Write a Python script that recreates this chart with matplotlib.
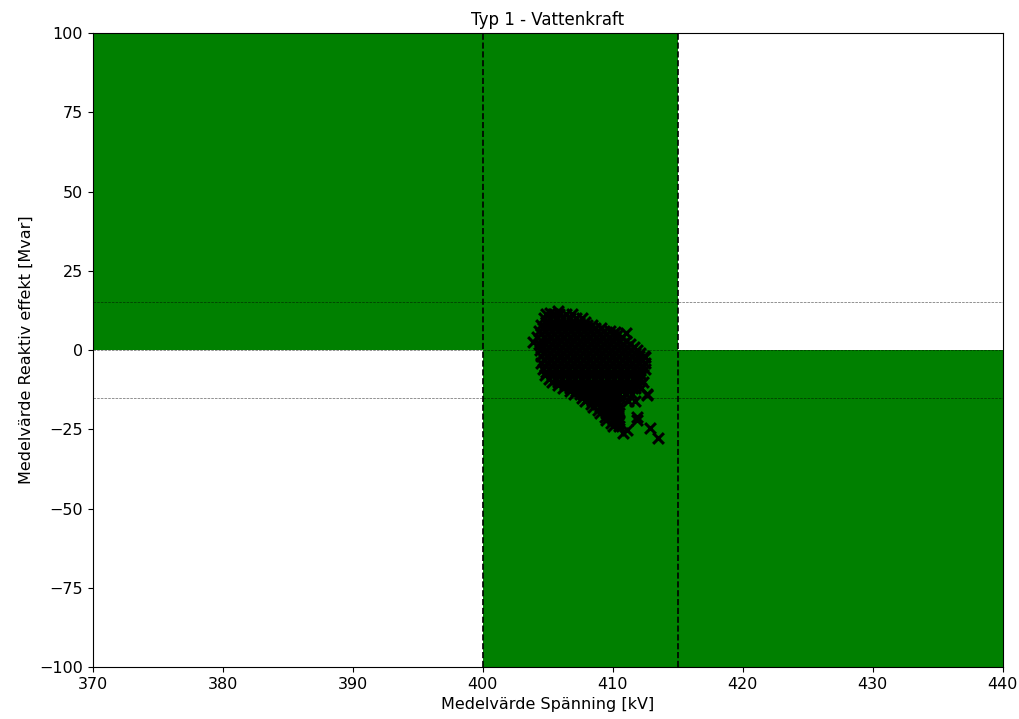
import numpy as np
import matplotlib
matplotlib.use("Agg")
from matplotlib import pyplot as plt

# Gränser för zonerna (spänning kV, reaktiv effekt Mvar)
zone_x0 = [370, 400, 415]
zone_x1 = [400, 415, 440]
zone_y0 = [0, -100, -100]
zone_y1 = [100, 100, 0]

v_limits = [400, 415]
q_limits = [15, 0, -15]

# Mätpunkter, avlästa rad för rad (Q-värde: lista med spänningar)
rows = {
    11.5: [404.9, 405.4, 405.9, 406.4, 406.9],
    10: [404.7, 405.2, 405.7, 406.2, 406.7, 407.2, 407.6],
    9: [404.9, 405.4, 405.9, 406.4, 406.9, 407.4, 407.9],
    8: [404.5, 405.0, 405.5, 406.0, 406.5, 407.0, 407.5, 408.0, 408.4],
    7: [404.6, 405.1, 405.6, 406.1, 406.6, 407.1, 407.6, 408.1, 408.6, 409.1],
    6: [404.3, 404.8, 405.3, 405.8, 406.3, 406.8, 407.3, 407.8, 408.3, 408.8, 409.3, 409.8],
    5: [404.5, 405.0, 405.5, 406.0, 406.5, 407.0, 407.5, 408.0, 408.5, 409.0, 409.5, 410.0,
        410.4],
    4: [404.2, 404.7, 405.2, 405.7, 406.2, 406.7, 407.2, 407.7, 408.2, 408.7, 409.2, 409.7,
        410.2, 410.7],
    3: [404.5, 405.0, 405.5, 406.0, 406.5, 407.0, 407.5, 408.0, 408.5, 409.0, 409.5, 410.0,
        410.5, 411.0],
    2: [404.3, 404.8, 405.3, 405.8, 406.3, 406.8, 407.3, 407.8, 408.3, 408.8, 409.3, 409.8,
        410.3, 410.8, 411.3],
    1: [404.6, 405.1, 405.6, 406.1, 406.6, 407.1, 407.6, 408.1, 408.6, 409.1, 409.6, 410.1,
        410.6, 411.1, 411.6],
    0: [404.4, 404.9, 405.4, 405.9, 406.4, 406.9, 407.4, 407.9, 408.4, 408.9, 409.4, 409.9,
        410.4, 410.9, 411.4, 411.9],
    -1: [404.7, 405.2, 405.7, 406.2, 406.7, 407.2, 407.7, 408.2, 408.7, 409.2, 409.7, 410.2,
         410.7, 411.2, 411.7, 412.1],
    -2: [404.5, 405.0, 405.5, 406.0, 406.5, 407.0, 407.5, 408.0, 408.5, 409.0, 409.5, 410.0,
         410.5, 411.0, 411.5, 412.0, 412.4],
    -3: [404.7, 405.2, 405.7, 406.2, 406.7, 407.2, 407.7, 408.2, 408.7, 409.2, 409.7, 410.2,
         410.7, 411.2, 411.7, 412.2],
    -4: [404.5, 405.0, 405.5, 406.0, 406.5, 407.0, 407.5, 408.0, 408.5, 409.0, 409.5, 410.0,
         410.5, 411.0, 411.5, 412.0, 412.5],
    -5: [404.8, 405.3, 405.8, 406.3, 406.8, 407.3, 407.8, 408.3, 408.8, 409.3, 409.8, 410.3,
         410.8, 411.3, 411.8, 412.3],
    -6: [404.6, 405.1, 405.6, 406.1, 406.6, 407.1, 407.6, 408.1, 408.6, 409.1, 409.6, 410.1,
         410.6, 411.1, 411.6, 412.1, 412.5],
    -7: [404.9, 405.4, 405.9, 406.4, 406.9, 407.4, 407.9, 408.4, 408.9, 409.4, 409.9, 410.4,
         410.9, 411.4, 411.9],
    -8: [404.8, 405.3, 405.8, 406.3, 406.8, 407.3, 407.8, 408.3, 408.8, 409.3, 409.8, 410.3,
         410.8, 411.3, 411.8, 412.2],
    -9: [405.1, 405.6, 406.1, 406.6, 407.1, 407.6, 408.1, 408.6, 409.1, 409.6, 410.1, 410.6,
         411.1, 411.6, 412.1],
    -10: [405.3, 405.8, 406.3, 406.8, 407.3, 407.8, 408.3, 408.8, 409.3, 409.8, 410.3, 410.8,
          411.3, 411.8, 412.3],
    -11: [405.8, 406.3, 406.8, 407.3, 407.8, 408.3, 408.8, 409.3, 409.8, 410.3, 410.8, 411.3,
          411.8],
    -12: [406.2, 406.7, 407.2, 407.7, 408.2, 408.7, 409.2, 409.7, 410.2, 410.7, 411.2, 411.7,
          412.2],
    -13: [406.7, 407.2, 407.7, 408.2, 408.7, 409.2, 409.7, 410.2, 410.7, 411.2],
    -14: [407.0, 407.5, 408.0, 408.5, 409.0, 409.5, 410.0, 410.5, 411.0, 411.5, 412.6],
    -15: [407.6, 408.1, 408.6, 409.1, 409.6, 410.1, 410.6],
    -16: [407.9, 408.4, 408.9, 409.4, 409.9, 410.3, 411.15, 411.7],
    -17: [408.3, 408.8, 409.3, 409.8, 410.3],
    -18: [408.5, 409.0, 409.5, 410.0, 410.4],
    -19: [408.9, 409.4, 409.9, 410.4],
    -20: [409.0, 409.5, 410.0, 410.5],
    -21: [409.4, 409.9, 410.4],
    -22: [409.5, 410.0, 410.5, 411.9],
    -23: [409.9, 410.4],
    -24: [410.0, 410.5],
}

# Enstaka punkter utanför klustret
extra_v = [405.15, 405.8, 403.9, 404.4, 410.15, 411.05, 412.5, 412.2, 412.6, 411.9,
           410.8, 411.1, 412.85, 413.5]
extra_q = [11.8, 12.2, 2.6, 1.5, 5.8, 5.3, -2.1, -7.9, -14.2, -21.1,
           -26.3, -25.2, -24.6, -27.8]

voltage = []
reactive = []
for q, vs in rows.items():
    voltage += vs
    reactive += [q] * len(vs)
voltage += extra_v
reactive += extra_q

fig = plt.figure(figsize=(10.2, 7.19), dpi=100)
ax = fig.add_axes([0.091, 0.0723, 0.892, 0.8817])

for x0, x1, y0, y1 in zip(zone_x0, zone_x1, zone_y0, zone_y1):
    ax.fill_between([x0, x1], y0, y1, color="green", linewidth=0, zorder=1)

for v in v_limits:
    ax.axvline(v, color="black", linestyle="--", linewidth=1.2, zorder=2)
for q in q_limits:
    ax.axhline(q, color="black", linestyle="--", linewidth=0.5, alpha=0.6, zorder=2)

ax.scatter(voltage, reactive, marker="x", color="black", s=60, linewidths=2.2, zorder=3)

ax.set_xlim(370, 440)
ax.set_ylim(-100, 100)
ax.set_title("Typ 1 - Vattenkraft", fontsize=12)
ax.set_xlabel("Medelvärde Spänning [kV]", fontsize=11.5)
ax.set_ylabel("Medelvärde Reaktiv effekt [Mvar]", fontsize=11.5)
ax.tick_params(labelsize=11.5)

fig.savefig("out.png", dpi=100)
